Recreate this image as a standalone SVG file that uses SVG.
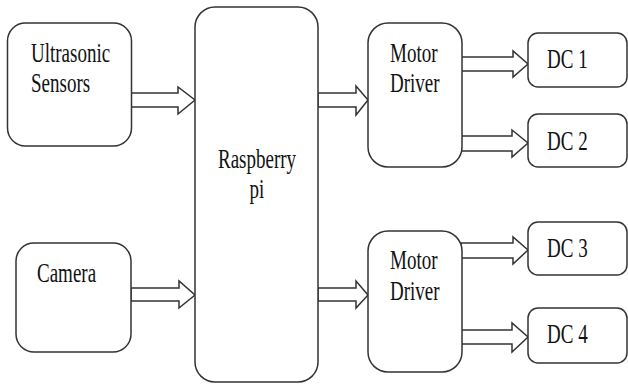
<svg xmlns="http://www.w3.org/2000/svg" width="628" height="384" viewBox="0 0 628 384">
<style>
.box{fill:#fff;stroke:#333;stroke-width:1.5}
.arr{fill:#fff;stroke:#333;stroke-width:1.5;stroke-linejoin:miter}
text{font-family:"Liberation Serif","Times New Roman",serif;font-size:19px;fill:#111}
</style>
<rect width="628" height="384" fill="#fff"/>
<g id="connectors">
<polygon class="arr" points="131,93 178,93 178,87 195,100 178,114 178,107 131,107"/>
<polygon class="arr" points="131,288 179,288 179,281 195,295 179,308 179,301 131,301"/>
<polygon class="arr" points="318,93 356,93 356,86 368,100 356,115 356,107 318,107"/>
<polygon class="arr" points="318,288 356,288 356,281 368,295 356,308 356,301 318,301"/>
<polygon class="arr" points="461,57 513,57 513,51 528,64 513,77 513,71 461,71"/>
<polygon class="arr" points="461,136 512,136 512,130 528,143 512,157 512,151 461,151"/>
<polygon class="arr" points="461,243 513,243 513,237 528,250 513,264 513,258 461,258"/>
<polygon class="arr" points="461,330 512,330 512,323 528,337 512,352 512,344 461,344"/>
</g>
<g id="ultrasonic">
<rect class="box" x="7.5" y="23" width="124" height="123" rx="18"/>
<text transform="translate(31,62) scale(1,1.42)">Ultrasonic</text>
<text transform="translate(31,92) scale(1,1.42)">Sensors</text>
</g>
<g id="camera">
<rect class="box" x="16" y="243" width="115" height="109" rx="18"/>
<text transform="translate(37,282) scale(1,1.42)">Camera</text>
</g>
<g id="raspberry">
<rect class="box" x="195" y="7" width="123" height="375" rx="20"/>
<text transform="translate(257,168) scale(1,1.42)" text-anchor="middle">Raspberry</text>
<text transform="translate(257,198) scale(1,1.42)" text-anchor="middle">pi</text>
</g>
<g id="motor1">
<rect class="box" x="368" y="23" width="94" height="144" rx="20"/>
<text transform="translate(390,62) scale(1,1.42)">Motor</text>
<text transform="translate(390,92) scale(1,1.42)">Driver</text>
</g>
<g id="motor2">
<rect class="box" x="368" y="231" width="94" height="141" rx="20"/>
<text transform="translate(390,269) scale(1,1.42)">Motor</text>
<text transform="translate(390,300) scale(1,1.42)">Driver</text>
</g>
<g id="dc1">
<rect class="box" x="528" y="33" width="99" height="54" rx="10"/>
<text transform="translate(547,68) scale(1,1.42)">DC 1</text>
</g>
<g id="dc2">
<rect class="box" x="528" y="114" width="99" height="53" rx="10"/>
<text transform="translate(547,150) scale(1,1.42)">DC 2</text>
</g>
<g id="dc3">
<rect class="box" x="528" y="222" width="99" height="53" rx="10"/>
<text transform="translate(547,257) scale(1,1.42)">DC 3</text>
</g>
<g id="dc4">
<rect class="box" x="528" y="308" width="99" height="55" rx="10"/>
<text transform="translate(547,343) scale(1,1.42)">DC 4</text>
</g>
</svg>
